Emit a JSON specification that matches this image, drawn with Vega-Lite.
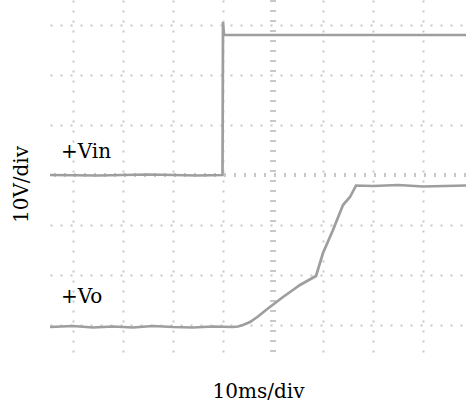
{
  "$schema": "https://vega.github.io/schema/vega-lite/v6.json",
  "width": 416,
  "height": 360,
  "autosize": {"type": "none"},
  "padding": {"left": 50, "top": 0, "right": 0, "bottom": 45},
  "background": "white",
  "config": {"view": {"stroke": null}, "font": "DejaVu Serif"},
  "datasets": {
    "traces": [
      {"series": "Vin", "i": 1, "t": -44.6, "v": 0},
      {"series": "Vin", "i": 2, "t": -35, "v": -0.1},
      {"series": "Vin", "i": 3, "t": -25, "v": 0.1},
      {"series": "Vin", "i": 4, "t": -15, "v": -0.1},
      {"series": "Vin", "i": 5, "t": -10.1, "v": 0},
      {"series": "Vin", "i": 6, "t": -10, "v": 30.6},
      {"series": "Vin", "i": 7, "t": -9.8, "v": 28},
      {"series": "Vin", "i": 8, "t": 10, "v": 28},
      {"series": "Vin", "i": 9, "t": 38.6, "v": 28},
      {"series": "Vo", "i": 1, "t": -44.6, "v": -30.4},
      {"series": "Vo", "i": 2, "t": -40, "v": -30.2},
      {"series": "Vo", "i": 3, "t": -36, "v": -30.5},
      {"series": "Vo", "i": 4, "t": -32, "v": -30.3},
      {"series": "Vo", "i": 5, "t": -28, "v": -30.5},
      {"series": "Vo", "i": 6, "t": -24, "v": -30.2},
      {"series": "Vo", "i": 7, "t": -20, "v": -30.4},
      {"series": "Vo", "i": 8, "t": -16, "v": -30.5},
      {"series": "Vo", "i": 9, "t": -12, "v": -30.3},
      {"series": "Vo", "i": 10, "t": -8, "v": -30.4},
      {"series": "Vo", "i": 11, "t": -7, "v": -30.3},
      {"series": "Vo", "i": 12, "t": -6, "v": -30},
      {"series": "Vo", "i": 13, "t": -4.6, "v": -29.4},
      {"series": "Vo", "i": 14, "t": -3, "v": -28.3},
      {"series": "Vo", "i": 15, "t": -1.4, "v": -27},
      {"series": "Vo", "i": 16, "t": 0.3, "v": -25.7},
      {"series": "Vo", "i": 17, "t": 2, "v": -24.4},
      {"series": "Vo", "i": 18, "t": 3.7, "v": -23.2},
      {"series": "Vo", "i": 19, "t": 5.4, "v": -22},
      {"series": "Vo", "i": 20, "t": 7, "v": -21.1},
      {"series": "Vo", "i": 21, "t": 8.6, "v": -20.2},
      {"series": "Vo", "i": 22, "t": 10, "v": -15.6},
      {"series": "Vo", "i": 23, "t": 12, "v": -11},
      {"series": "Vo", "i": 24, "t": 14, "v": -6},
      {"series": "Vo", "i": 25, "t": 15.4, "v": -4.4},
      {"series": "Vo", "i": 26, "t": 16.6, "v": -2.1},
      {"series": "Vo", "i": 27, "t": 20, "v": -2.2},
      {"series": "Vo", "i": 28, "t": 25, "v": -2.0},
      {"series": "Vo", "i": 29, "t": 30, "v": -2.3},
      {"series": "Vo", "i": 30, "t": 38.6, "v": -2.1}
    ],
    "center": [{"t": 0, "v": 0}],
    "labels": [
      {"label": "+Vin", "t": -42.4, "v": 3.4},
      {"label": "+Vo", "t": -42.4, "v": -25.6}
    ]
  },
  "layer": [
    {
      "data": {"name": "center"},
      "mark": {"type": "rule", "color": "#c8c8c8", "strokeWidth": 6, "strokeDash": [2, 8], "strokeDashOffset": 0},
      "encoding": {
        "x": {
          "field": "t", "type": "quantitative",
          "scale": {"domain": [-44.6, 38.6], "nice": false, "zero": false},
          "axis": {
            "title": "10ms/div", "labels": false, "ticks": false, "domain": false,
            "grid": true, "values": [-40, -30, -20, -10, 10, 20, 30],
            "gridColor": "#c8c8c8", "gridWidth": 2, "gridDash": [2, 8], "gridDashOffset": 0,
            "titleFont": "DejaVu Serif", "titleFontSize": 20, "titleFontWeight": "normal",
            "titleColor": "#000", "titleY": 37, "titleBaseline": "alphabetic"
          }
        }
      }
    },
    {
      "data": {"name": "center"},
      "mark": {"type": "rule", "color": "#c8c8c8", "strokeWidth": 4, "strokeDash": [2, 8], "strokeDashOffset": 0},
      "encoding": {
        "y": {
          "field": "v", "type": "quantitative",
          "scale": {"domain": [-37, 35], "nice": false, "zero": false},
          "axis": {
            "title": "10V/div", "labels": false, "ticks": false, "domain": false,
            "grid": true, "values": [-30, -20, -10, 10, 20, 30],
            "gridColor": "#c8c8c8", "gridWidth": 2, "gridDash": [2, 8], "gridDashOffset": 0,
            "titleFont": "DejaVu Serif", "titleFontSize": 20, "titleFontWeight": "normal",
            "titleColor": "#000", "titleAngle": -90, "titleX": -29, "titleY": 184,
            "titleAlign": "center", "titleBaseline": "middle"
          }
        }
      }
    },
    {
      "data": {"name": "traces"},
      "mark": {"type": "line", "color": "#9e9e9e", "strokeWidth": 2.7},
      "encoding": {
        "x": {"field": "t", "type": "quantitative"},
        "y": {"field": "v", "type": "quantitative"},
        "detail": {"field": "series"},
        "order": {"field": "i", "type": "quantitative"}
      }
    },
    {
      "data": {"name": "labels"},
      "mark": {"type": "text", "align": "left", "baseline": "alphabetic", "font": "DejaVu Serif", "fontSize": 20, "color": "#000"},
      "encoding": {
        "x": {"field": "t", "type": "quantitative"},
        "y": {"field": "v", "type": "quantitative"},
        "text": {"field": "label"}
      }
    }
  ]
}
